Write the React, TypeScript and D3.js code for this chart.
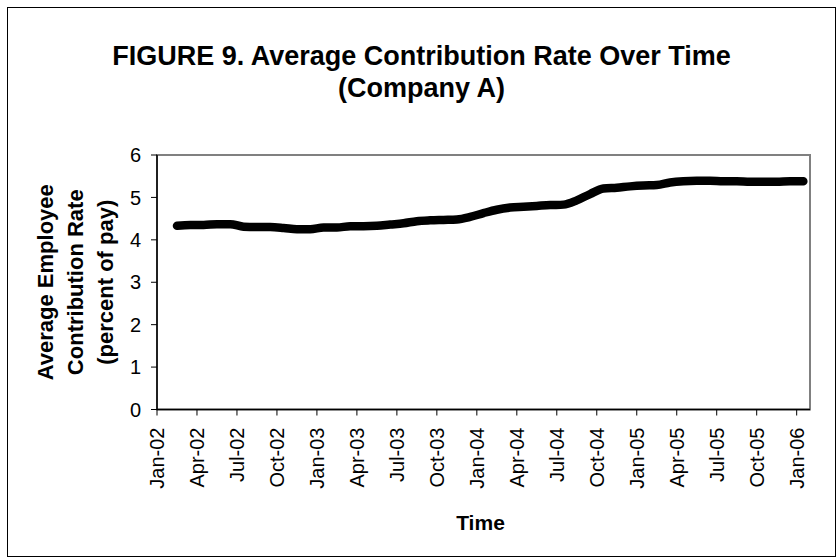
import React from "react";
import * as d3 from "d3";

const titleLines = ["FIGURE 9. Average Contribution Rate Over Time", "(Company A)"];
const yTitleLines = ["Average Employee", "Contribution Rate", "(percent of pay)"];
const xTitle = "Time";

// Monthly observations, Feb-02 .. Jan-06 (month index 1..48, Jan-02 = 0)
const startMonthIndex = 1;
const values = [
  4.33, 4.35, 4.35, 4.37, 4.37, 4.31, 4.30, 4.30, 4.28, 4.25, 4.25,
  4.29, 4.29, 4.32, 4.32, 4.33, 4.36, 4.39, 4.44, 4.46, 4.47, 4.48, 4.54,
  4.63, 4.71, 4.76, 4.78, 4.80, 4.82, 4.83, 4.93, 5.08, 5.21, 5.23, 5.26,
  5.28, 5.29, 5.35, 5.38, 5.39, 5.39, 5.38, 5.38, 5.37, 5.37, 5.37, 5.38,
  5.38,
];

const xTickLabels = [
  "Jan-02", "Apr-02", "Jul-02", "Oct-02",
  "Jan-03", "Apr-03", "Jul-03", "Oct-03",
  "Jan-04", "Apr-04", "Jul-04", "Oct-04",
  "Jan-05", "Apr-05", "Jul-05", "Oct-05",
  "Jan-06",
];
const xTickStep = 3;
const totalMonths = 49;
const yTicks = [0, 1, 2, 3, 4, 5, 6];

const W = 838;
const H = 559;
const plot = { left: 157, right: 810, top: 155, bottom: 409.5 };

export default function App() {
  const x = d3.scaleLinear().domain([0, totalMonths]).range([plot.left, plot.right]);
  const y = d3.scaleLinear().domain([0, 6]).range([plot.bottom, plot.top]);
  const line = d3
    .line<number>()
    .x((_, i) => x(startMonthIndex + i + 0.5))
    .y((d) => y(d))
    .curve(d3.curveMonotoneX);

  const font = "Arial, 'Liberation Sans', Helvetica, sans-serif";
  const cy = (plot.top + plot.bottom) / 2;
  const cx = (plot.left + plot.right) / 2;

  return (
    <svg
      width={W}
      height={H}
      style={{ position: "absolute", left: 0, top: 0, background: "#fff" }}
      fontFamily={font}
    >
      <rect x={7.5} y={7.5} width={828} height={549} fill="#fff" stroke="#000" strokeWidth={1} />
      {titleLines.map((t, i) => (
        <text
          key={i}
          x={421.5}
          y={65 + i * 32}
          textAnchor="middle"
          fontSize={27}
          fontWeight="bold"
        >
          {t}
        </text>
      ))}
      {/* plot frame */}
      <rect
        x={plot.left}
        y={plot.top}
        width={plot.right - plot.left}
        height={plot.bottom - plot.top}
        fill="#fff"
        stroke="#808080"
        strokeWidth={2}
      />
      {/* axes */}
      <line x1={plot.left} x2={plot.left} y1={plot.top} y2={plot.bottom} stroke="#000" strokeWidth={1.5} />
      <line x1={plot.left} x2={plot.right} y1={plot.bottom} y2={plot.bottom} stroke="#000" strokeWidth={1.5} />
      {yTicks.map((t) => (
        <g key={t}>
          <line x1={plot.left - 6} x2={plot.left} y1={y(t)} y2={y(t)} stroke="#000" strokeWidth={1} />
          <text x={141} y={y(t)} dy="0.36em" textAnchor="end" fontSize={20}>
            {t}
          </text>
        </g>
      ))}
      {xTickLabels.map((lab, i) => {
        const xv = x(i * xTickStep);
        return (
          <g key={lab}>
            <line x1={xv} x2={xv} y1={plot.bottom} y2={plot.bottom + 6} stroke="#000" strokeWidth={1} />
            <text
              transform={`translate(${xv},${plot.bottom + 18}) rotate(-90)`}
              dy="0.36em"
              textAnchor="end"
              fontSize={20}
            >
              {lab}
            </text>
          </g>
        );
      })}
      <path
        d={line(values) || ""}
        fill="none"
        stroke="#000"
        strokeWidth={8.5}
        strokeLinecap="round"
        strokeLinejoin="round"
      />
      {yTitleLines.map((t, i) => (
        <text
          key={i}
          transform={`translate(${53 + i * 30},${cy}) rotate(-90)`}
          textAnchor="middle"
          fontSize={22}
          fontWeight="bold"
        >
          {t}
        </text>
      ))}
      <text x={cx - 3} y={530} textAnchor="middle" fontSize={21} fontWeight="bold">
        {xTitle}
      </text>
    </svg>
  );
}
